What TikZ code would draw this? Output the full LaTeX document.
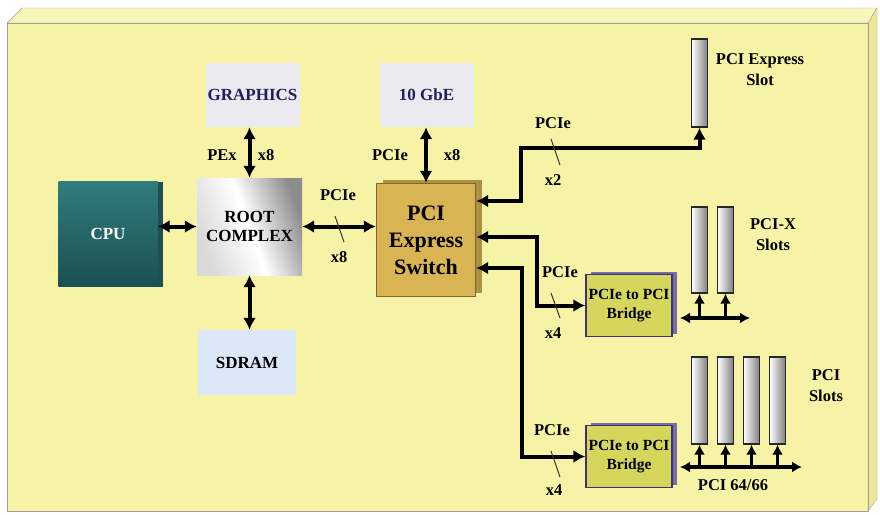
\documentclass[tikz,border=0pt]{standalone}
\usepackage{fontspec}
\setmainfont{Liberation Serif}
\usetikzlibrary{arrows.meta,shadows}

\definecolor{boardfill}{RGB}{247,243,166}
\definecolor{boardtop}{RGB}{249,246,186}
\definecolor{boardside}{RGB}{236,231,150}
\definecolor{cputeal}{RGB}{48,124,124}
\definecolor{cpudark}{RGB}{28,80,82}
\definecolor{swgold}{RGB}{217,180,82}
\definecolor{swedge}{RGB}{128,100,52}
\definecolor{brolive}{RGB}{214,214,92}
\definecolor{bredge}{RGB}{60,48,122}
\definecolor{devgrey}{RGB}{233,233,238}
\definecolor{ramblue}{RGB}{220,232,248}
\definecolor{navytext}{RGB}{32,30,92}

\begin{document}
\begin{tikzpicture}[x=1pt,y=-1pt,>={Latex[length=12pt,width=13pt]},line join=miter,
  unit/.style={inner sep=0pt,align=center,font=\bfseries\fontsize{17}{19}\selectfont},
  devbox/.style={unit,fill=devgrey,text=navytext,minimum width=94pt,minimum height=64pt},
  bridgebox/.style={unit,fill=brolive,draw=bredge,line width=1.4pt,
    minimum width=86pt,minimum height=62pt,font=\bfseries\fontsize{15.5}{19}\selectfont,
    general shadow={fill=bredge!70,shadow xshift=5pt,shadow yshift=3pt}},
  slot/.style={draw=black!85,line width=1.3pt,left color=white,right color=black!50,
    minimum width=16pt,inner sep=0pt},
  lbl/.style={inner sep=0pt,align=center,font=\bfseries\fontsize{16.5}{21}\selectfont},
  link/.style={line width=4pt},
  bus/.style={line width=3.2pt,>={Latex[length=10pt,width=11pt]}},
  tick/.style={line width=1pt,black!80}]
  \useasboundingbox (0,0) rectangle (880,514);
  % board
  \fill[boardfill] (7,23) rectangle (868,511);
  \filldraw[fill=boardtop,draw=gray!75] (7,23) -- (22,8) -- (877,8) -- (868,23) -- cycle;
  \filldraw[fill=boardside,draw=gray!75] (868,23) -- (877,8) -- (877,499) -- (868,511) -- cycle;
  \draw[gray!75] (7,23) rectangle (868,511);

  % devices
  \node[unit,text=white,top color=cputeal,bottom color=cpudark,minimum width=99pt,minimum height=105pt,
    general shadow={fill=cpudark,shadow xshift=5pt,shadow yshift=0pt}] (cpu) at (108,234) {CPU};
  \node[unit,shading=axis,left color=gray!30,right color=gray!90,middle color=white,shading angle=110,
    minimum width=105pt,minimum height=97pt] (root) at (249.5,226.5) {ROOT\\COMPLEX};
  \node[devbox] (gfx) at (252.5,95) {GRAPHICS};
  \node[devbox] (gbe) at (426.5,95) {10 GbE};
  \node[unit,fill=ramblue,minimum width=98pt,minimum height=65pt] (ram) at (247,362.5) {SDRAM};
  \node[unit,fill=swgold,draw=swedge,line width=1.4pt,minimum width=99pt,minimum height=113pt,
    font=\bfseries\fontsize{22}{27}\selectfont,
    general shadow={fill=swgold!80!black,shadow xshift=6pt,shadow yshift=4pt}] (sw) at (426,240)
    {PCI\\Express\\Switch};
  \node[bridgebox] (br1) at (629,305.5) {PCIe to PCI\\Bridge};
  \node[bridgebox] (br2) at (629,456.5) {PCIe to PCI\\Bridge};

  % slots
  \node[slot,minimum height=88pt] (pe) at (699.5,83) {};
  \node[slot,minimum height=86pt] (px1) at (699.5,250) {};
  \node[slot,minimum height=86pt] (px2) at (725.5,250) {};
  \foreach \i/\x in {1/699.5,2/725.5,3/751.5,4/777.5}
    \node[slot,minimum height=87pt] (pc\i) at (\x,400.5) {};

  % root complex links
  \draw[link,<->] (root.west) -- (root.west -| cpu.east);
  \draw[link,<->] (root.north) -- (root.north |- gfx.south);
  \draw[link,<->] (ram.north -| root.south) -- (root.south);
  \draw[link,<->] (root.east) -- (root.east -| sw.west);
  \draw[tick] (335,216) -- (344,242);
  \node[lbl] at (222,155) {PEx};
  \node[lbl] at (266,155) {x8};
  \node[lbl] at (338,195) {PCIe};
  \node[lbl] at (339,257) {x8};

  % switch links
  \draw[link,<->] (sw.north |- gbe.south) -- (sw.north);
  \node[lbl] at (390,155) {PCIe};
  \node[lbl] at (452,155) {x8};
  \draw[link,<->] (sw.east |- 0,201) -| (521,148) -| (pe.south);
  \draw[tick] (551,139) -- (560,165);
  \node[lbl] at (553,123) {PCIe};
  \node[lbl] at (553,180) {x2};
  \draw[link,<->] (sw.east |- 0,237) -| (br1.west -| 537,0) -- (br1.west);
  \draw[tick] (551,293) -- (560,318);
  \node[lbl] at (560,272) {PCIe};
  \node[lbl] at (553,333) {x4};
  \draw[link,<->] (sw.east |- 0,268) -| (br2.west -| 522,0) -- (br2.west);
  \draw[tick] (551,451) -- (560,477);
  \node[lbl] at (552,430) {PCIe};
  \node[lbl] at (554,490) {x4};

  % PCI-X bus
  \coordinate (b1) at (680,318);
  \coordinate (b1end) at (750,318);
  \draw[bus,<->] (b1) -- (b1end);
  \draw[bus,->] (px1.south |- b1) -- (px1.south);
  \draw[bus,->] (px2.south |- b1) -- (px2.south);

  % PCI bus
  \coordinate (b2) at (680,467);
  \coordinate (b2end) at (802,467);
  \draw[bus,<->] (b2) -- (b2end);
  \foreach \i in {1,...,4}
    \draw[bus,->] (pc\i.south |- b2) -- (pc\i.south);

  % slot labels
  \node[lbl] at (760,70) {PCI Express\\Slot};
  \node[lbl] at (773,235) {PCI-X\\Slots};
  \node[lbl] at (826,386) {PCI\\Slots};
  \node[lbl] at (733,485) {PCI 64/66};
\end{tikzpicture}
\end{document}
